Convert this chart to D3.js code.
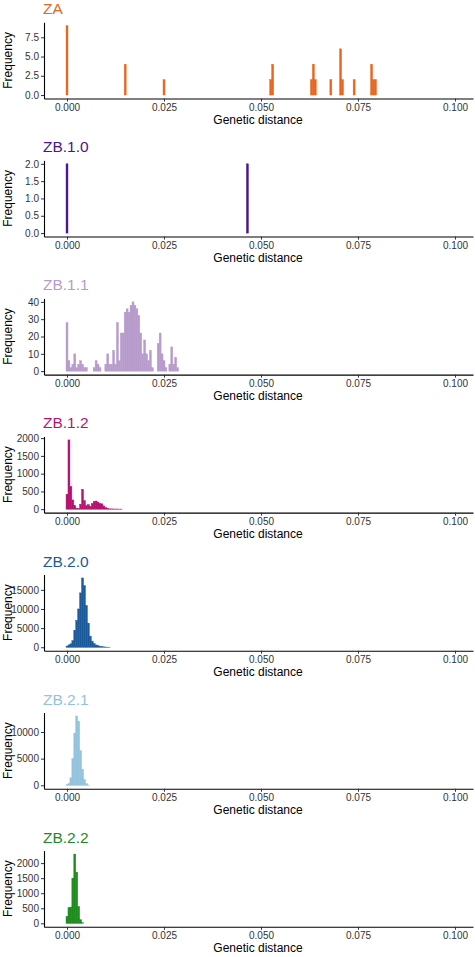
<!DOCTYPE html>
<html><head><meta charset="utf-8">
<script src="https://cdn.jsdelivr.net/npm/d3@7"></script>
<style>body{margin:0;background:#fff} text{font-family:"Liberation Sans",Arial,sans-serif}</style>
</head><body><svg id="c" width="475" height="957"></svg>
<script>
const binWidth = 0.0005;
const xTicks = [0, 0.025, 0.05, 0.075, 0.1];
const panelNames = ["ZA", "ZB.1.0", "ZB.1.1", "ZB.1.2", "ZB.2.0", "ZB.2.1", "ZB.2.2"];
const panelColors = ["#E8651D", "#4A148C", "#B79BCB", "#B5136F", "#1B5A9A", "#92C2DC", "#1E8C1E"];

// sparse panels: bin centres and counts
const zaDist  = [0, 0.015, 0.025, 0.0525, 0.053, 0.063, 0.0635, 0.064, 0.068, 0.0705, 0.071, 0.074, 0.0785, 0.079, 0.0795];
const zaCount = [9, 4, 2, 2, 4, 2, 4, 2, 2, 6, 2, 2, 4, 2, 2];
const zb10Dist  = [0, 0.0465];
const zb10Count = [2, 2];

// dense panels: counts per bin, first bin centred at 0
const zb11Count = [28, 6, 2, 4, 10, 2, 4, 6, 4, 2, 2, 0, 0, 0, 2, 6, 4, 2, 0, 0,
                   4, 10, 4, 4, 12, 4, 28, 6, 22, 22, 34, 36, 34, 38, 40, 38, 36, 32, 22, 10,
                   18, 10, 6, 12, 2, 0, 0, 16, 22, 10, 6, 2, 0, 4, 14, 4, 8, 2];
const zb12Count = [420, 1950, 640, 260, 100, 30, 20, 140, 560, 240, 100, 130, 80, 160, 220, 230, 200, 160, 150, 90,
                   40, 15, 10, 8, 6, 5, 5, 3, 3];
const zb20Count = [300, 600, 900, 1700, 4400, 7000, 10000, 14200, 18100, 16100, 10900, 6300, 2900, 1600, 950, 600, 430, 260, 170, 90,
                   50, 25, 10];
const zb21Count = [150, 300, 1400, 5000, 9800, 13000, 12000, 6500, 3000, 1100, 300, 50];
const zb22Count = [230, 520, 540, 1500, 2300, 1700, 560, 120, 20];

const yTicks = [[0, 2.5, 5, 7.5], [0, 0.5, 1, 1.5, 2], [0, 10, 20, 30, 40], [0, 500, 1000, 1500, 2000],
                [0, 5000, 10000, 15000], [0, 5000, 10000], [0, 500, 1000, 1500, 2000]];
const yFormats = [".1f", ".1f", "d", "d", "d", "d", "d"];

function dense(counts) { return counts.map((c, i) => ({x: i * binWidth, n: c})); }
function sparse(d, c) { return d.map((v, i) => ({x: v, n: c[i]})); }
const panelData = [sparse(zaDist, zaCount), sparse(zb10Dist, zb10Count), dense(zb11Count), dense(zb12Count),
                   dense(zb20Count), dense(zb21Count), dense(zb22Count)];

const svg = d3.select("#c");
const x = d3.scaleLinear().domain([-0.00593, 0.10464]).range([44, 473]);
const panelStep = 138.05, firstBottom = 98.5, plotH = 76.2;

panelData.forEach((data, i) => {
  const bottom = firstBottom + panelStep * i, top = bottom - plotH;
  const M = d3.max(data, d => d.n);
  const y = d3.scaleLinear().domain([-0.05 * M, 1.05 * M]).range([bottom, top]);
  const g = svg.append("g");
  const col = panelColors[i];

  g.selectAll("rect").data(data.filter(d => d.n > 0)).join("rect")
    .attr("x", d => x(d.x - binWidth / 2))
    .attr("width", d => x(d.x + binWidth / 2) - x(d.x - binWidth / 2))
    .attr("y", d => y(d.n))
    .attr("height", d => y(0) - y(d.n))
    .attr("fill", col)
    .attr("stroke", col).attr("stroke-width", 0.45);

  // x axis
  const xa = g.append("g").attr("transform", `translate(0,${bottom})`)
    .call(d3.axisBottom(x).tickValues(xTicks).tickFormat(d3.format(".3f")).tickSize(3).tickSizeOuter(0).tickPadding(2));
  xa.select(".domain").attr("stroke", "#000").attr("stroke-width", 1.1);
  xa.selectAll(".tick line").attr("stroke", "#333").attr("stroke-width", 1);
  xa.selectAll(".tick text").attr("fill", "#333").style("font-size", "10px")
    .style("font-family", "'Liberation Sans',Arial,sans-serif");

  // y axis
  const ya = g.append("g").attr("transform", `translate(44,0)`)
    .call(d3.axisLeft(y).tickValues(yTicks[i]).tickFormat(d3.format(yFormats[i])).tickSize(3).tickSizeOuter(0).tickPadding(2));
  ya.select(".domain").attr("stroke", "#000").attr("stroke-width", 1.1);
  ya.selectAll(".tick line").attr("stroke", "#333").attr("stroke-width", 1);
  ya.selectAll(".tick text").attr("fill", "#333").style("font-size", "10px")
    .style("font-family", "'Liberation Sans',Arial,sans-serif");

  // titles
  g.append("text").attr("x", 43).attr("y", top - 8).attr("fill", col)
    .style("font-size", "15.5px").text(panelNames[i]);
  g.append("text").attr("x", 258).attr("y", bottom + 25).attr("text-anchor", "middle")
    .attr("fill", "#000").style("font-size", "12px").text("Genetic distance");
  g.append("text").attr("transform", `translate(12,${(top + bottom) / 2}) rotate(-90)`)
    .attr("text-anchor", "middle").attr("fill", "#000").style("font-size", "12px").text("Frequency");
});
</script>
</body></html>
